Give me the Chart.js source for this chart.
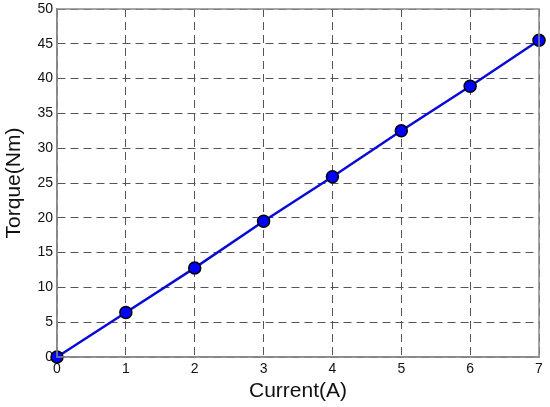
<!DOCTYPE html>
<html><head><meta charset="utf-8">
<script src="https://cdn.jsdelivr.net/npm/chart.js@4"></script>
<style>html,body{margin:0;padding:0;background:#fff}#w{width:550px;height:407px}</style>
</head><body><div id="w"><canvas id="c"></canvas></div>
<script>
const currentA = [0, 1, 2, 3, 4, 5, 6, 7];
const torqueNm = [0, 6.4, 12.8, 19.5, 25.9, 32.5, 38.9, 45.5];
const xTicks = [0, 1, 2, 3, 4, 5, 6, 7];
const yTicks = [0, 5, 10, 15, 20, 25, 30, 35, 40, 45, 50];

const boxPlugin = {
  id: 'box',
  afterDraw(chart) {
    const a = chart.chartArea, ctx = chart.ctx;
    ctx.save();
    ctx.strokeStyle = '#8a8a8a';
    ctx.lineWidth = 1.5;
    ctx.setLineDash([]);
    ctx.strokeRect(a.left, a.top, a.right - a.left, a.bottom - a.top);
    ctx.restore();
  }
};
Chart.defaults.font.family = '"Liberation Sans", Arial, sans-serif';
new Chart(document.getElementById('c'), {
  type: 'line',
  data: {
    datasets: [{
      data: currentA.map((x, i) => ({x: x, y: torqueNm[i]})),
      borderColor: '#0a0ad6',
      borderWidth: 2.5,
      backgroundColor: '#0000ff',
      pointBackgroundColor: '#0000ff',
      pointBorderColor: '#000000',
      pointBorderWidth: 1.5,
      pointRadius: 6,
      tension: 0,
      clip: false
    }]
  },
  options: {
    responsive: true,
    maintainAspectRatio: false,
    animation: false,
    layout: {padding: {left: 0, right: 11, top: 9, bottom: 0}},
    plugins: {legend: {display: false}, tooltip: {enabled: false}},
    scales: {
      x: {
        type: 'linear', min: 0, max: 7,
        afterBuildTicks: s => { s.ticks = xTicks.map(v => ({value: v})); },
        afterFit: s => { s.height = 50; s.paddingLeft = 0; s.paddingRight = 0; },
        grid: {color: '#555', lineWidth: 1, drawTicks: false},
        border: {display: true, color: '#8a8a8a', width: 1.5, dash: [8, 5]},
        ticks: {color: '#111', font: {size: 14}, padding: 4, maxRotation: 0},
        title: {display: true, text: 'Current(A)', color: '#111', font: {size: 21}, padding: {top: 2, bottom: 3}}
      },
      y: {
        type: 'linear', min: 0, max: 50,
        afterBuildTicks: s => { s.ticks = yTicks.map(v => ({value: v})); },
        afterFit: s => { s.width = 57; s.paddingTop = 0; s.paddingBottom = 0; },
        grid: {color: '#555', lineWidth: 1, drawTicks: false},
        border: {display: true, color: '#8a8a8a', width: 1.5, dash: [8, 5]},
        ticks: {color: '#111', font: {size: 14}, padding: 4},
        title: {display: true, text: 'Torque(Nm)', color: '#111', font: {size: 21}, padding: {top: 2, bottom: 2}}
      }
    }
  },
  plugins: [boxPlugin]
});
</script>
</body></html>
